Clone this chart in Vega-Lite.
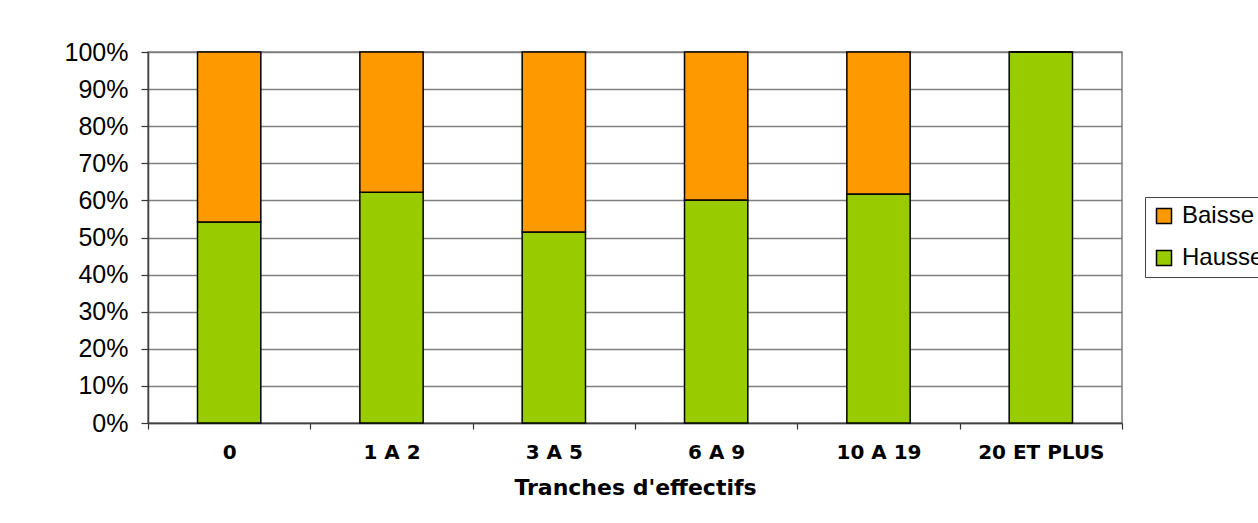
{
  "$schema": "https://vega.github.io/schema/vega-lite/v6.json",
  "autosize": "none",
  "width": 974,
  "height": 371,
  "padding": {"left": 148, "top": 52, "right": 136, "bottom": 100},
  "background": "white",
  "data": {
    "values": [
      {"tranche": "0", "serie": "Hausse", "pct": 54.2},
      {"tranche": "0", "serie": "Baisse", "pct": 45.8},
      {"tranche": "1 A 2", "serie": "Hausse", "pct": 62.2},
      {"tranche": "1 A 2", "serie": "Baisse", "pct": 37.8},
      {"tranche": "3 A 5", "serie": "Hausse", "pct": 51.5},
      {"tranche": "3 A 5", "serie": "Baisse", "pct": 48.5},
      {"tranche": "6 A 9", "serie": "Hausse", "pct": 60.1},
      {"tranche": "6 A 9", "serie": "Baisse", "pct": 39.9},
      {"tranche": "10 A 19", "serie": "Hausse", "pct": 61.7},
      {"tranche": "10 A 19", "serie": "Baisse", "pct": 38.3},
      {"tranche": "20 ET PLUS", "serie": "Hausse", "pct": 100},
      {"tranche": "20 ET PLUS", "serie": "Baisse", "pct": 0}
    ]
  },
  "mark": {"type": "bar", "stroke": "black", "strokeWidth": 1.5, "width": {"band": 0.39}},
  "encoding": {
    "x": {
      "field": "tranche",
      "type": "nominal",
      "sort": null,
      "title": "Tranches d'effectifs",
      "scale": {"paddingInner": 0, "paddingOuter": 0},
      "axis": {
        "labelAngle": 0,
        "labelFont": "DejaVu Sans",
        "labelFontWeight": "bold",
        "labelFontSize": 20,
        "labelColor": "black",
        "labelPadding": 13,
        "tickBand": "extent",
        "tickSize": 6,
        "tickColor": "#333333",
        "tickWidth": 1.2,
        "domainColor": "#404040",
        "domainWidth": 1.5,
        "grid": false,
        "titleFont": "DejaVu Sans",
        "titleFontWeight": "bold",
        "titleFontSize": 22,
        "titleColor": "black",
        "titlePadding": 15
      }
    },
    "y": {
      "field": "pct",
      "type": "quantitative",
      "stack": "normalize",
      "title": null,
      "scale": {"domain": [0, 1]},
      "axis": {
        "values": [0, 0.1, 0.2, 0.3, 0.4, 0.5, 0.6, 0.7, 0.8, 0.9, 1],
        "format": ".0%",
        "labelFont": "Liberation Sans",
        "labelFontSize": 25,
        "labelColor": "black",
        "labelPadding": 13,
        "tickSize": 7,
        "tickColor": "#333333",
        "tickWidth": 1.2,
        "domainColor": "#404040",
        "domainWidth": 1.5,
        "grid": true,
        "gridColor": "#808080",
        "gridWidth": 1.3,
        "gridOpacity": 1
      }
    },
    "color": {
      "field": "serie",
      "type": "nominal",
      "scale": {"domain": ["Baisse", "Hausse"], "range": ["#FF9900", "#99CC00"]},
      "legend": {
        "title": null,
        "orient": "none",
        "legendX": 997,
        "legendY": 145,
        "symbolType": "square",
        "symbolSize": 225,
        "symbolStrokeColor": "black",
        "symbolStrokeWidth": 1.5,
        "symbolOpacity": 1,
        "labelFont": "Liberation Sans",
        "labelFontSize": 24,
        "labelColor": "black",
        "labelOffset": 6,
        "rowPadding": 18,
        "padding": 7,
        "strokeColor": "#404040",
        "fillColor": "white"
      }
    },
    "order": {"field": "serie", "sort": "descending"}
  },
  "config": {
    "view": {"stroke": "#808080", "strokeWidth": 1.5}
  }
}
